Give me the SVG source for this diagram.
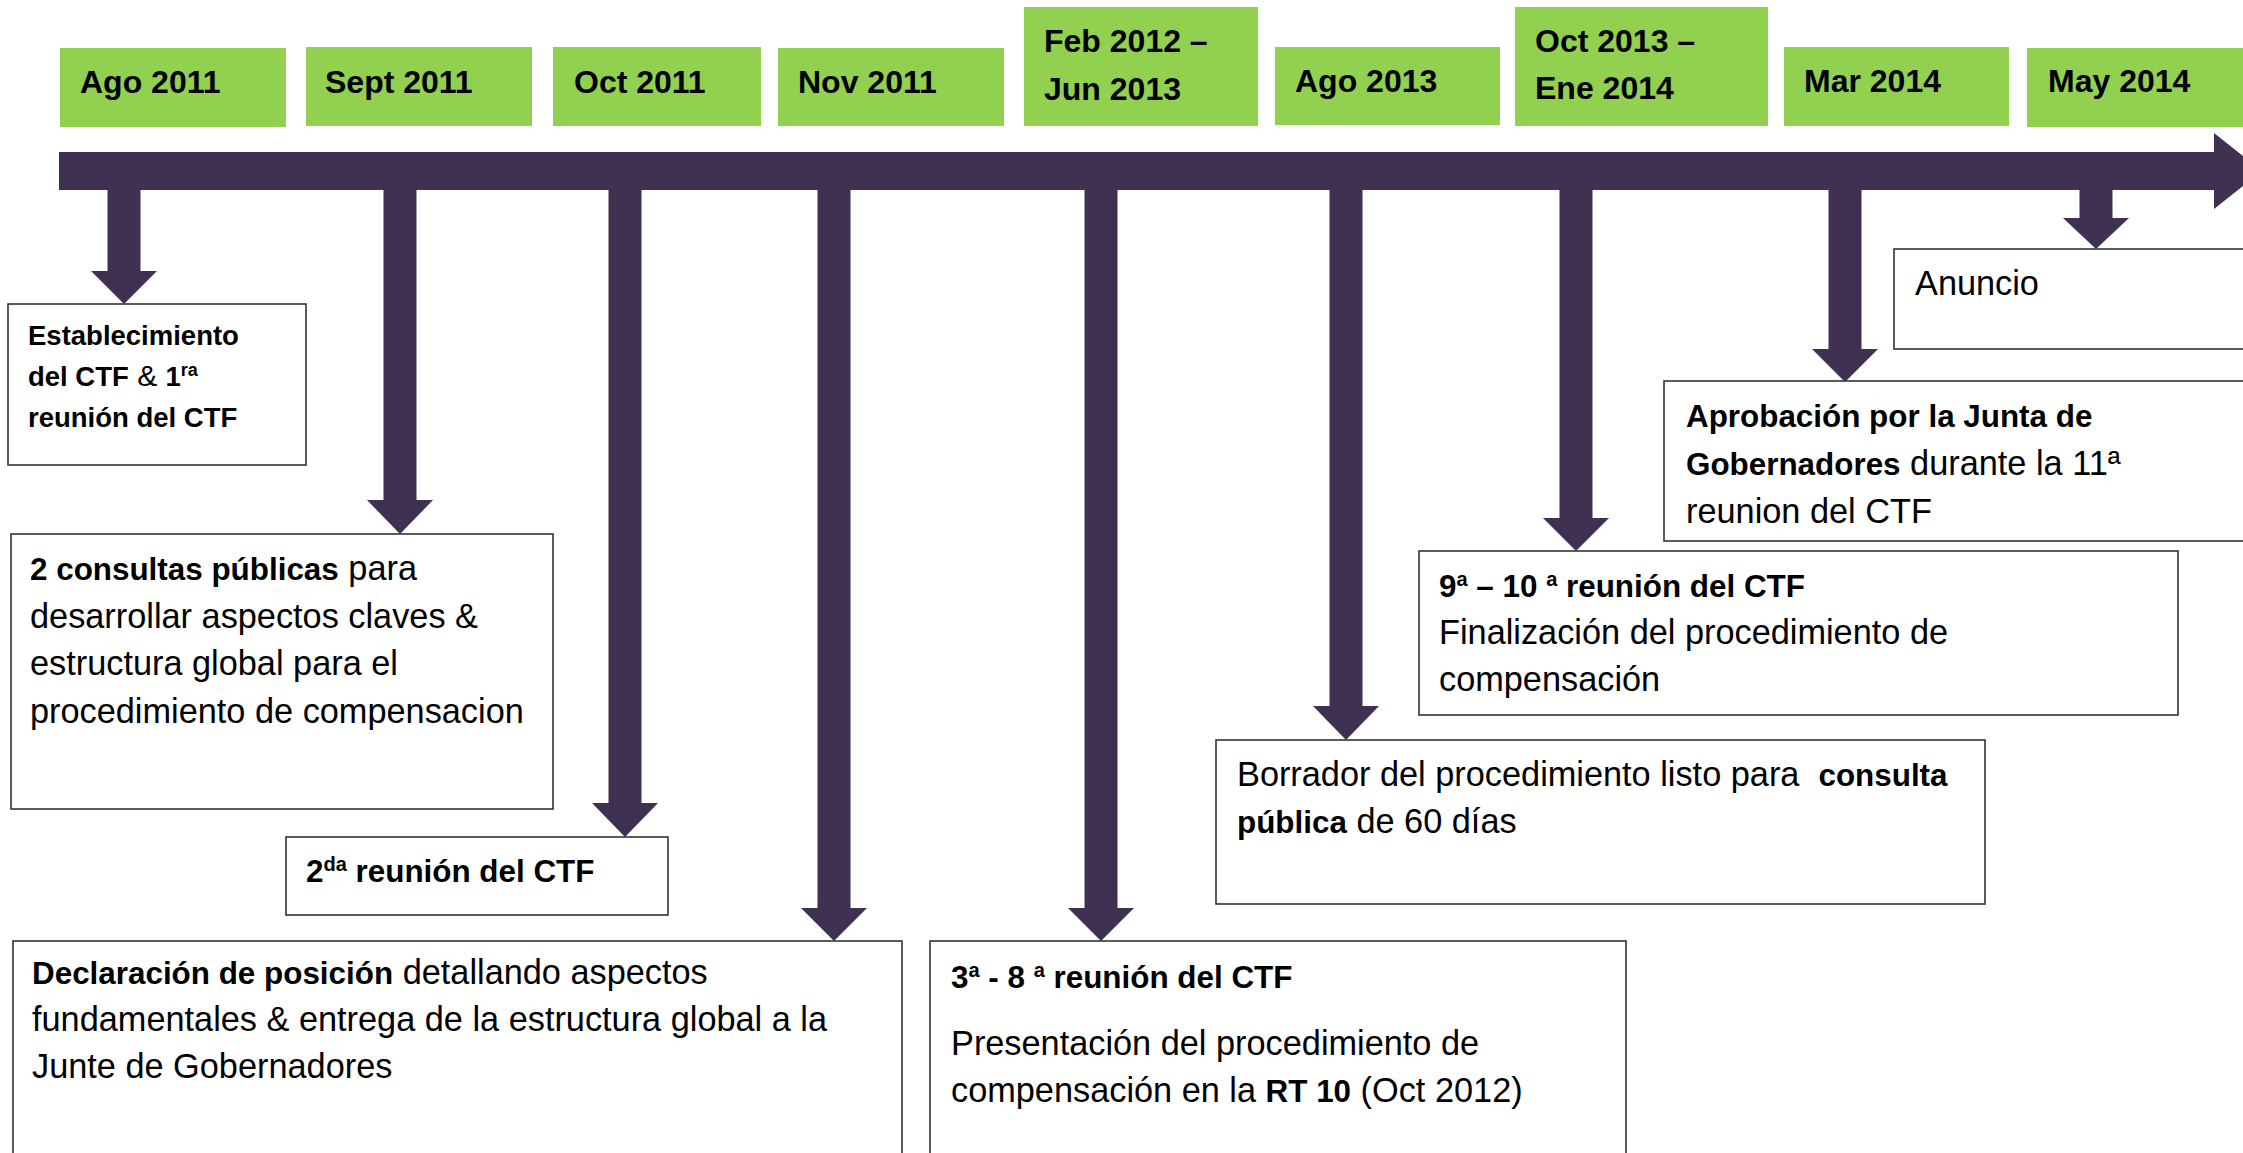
<svg xmlns="http://www.w3.org/2000/svg" width="2243" height="1153" viewBox="0 0 2243 1153">
<defs>
<style>
text{font-family:"Liberation Sans",Arial,sans-serif;fill:#000}
.date rect{fill:#92D050}
.date text{font-weight:bold;font-size:32px}
.box rect{fill:#fff;stroke:#333;stroke-width:1.6}
.r{font-size:34.3px}
.b{font-weight:bold;font-size:31.4px}
.sup{font-weight:bold;font-size:20px}
.a{font-weight:bold;font-size:27.5px}
.arrow{fill:#403152}
</style>
</defs>
<rect width="2243" height="1153" fill="#fff"/>

<g id="dates">
<g id="d-ago2011" class="date"><rect x="60" y="48" width="226" height="79"/><text x="80" y="93">Ago 2011</text></g>
<g id="d-sept2011" class="date"><rect x="306" y="47" width="226" height="79"/><text x="325" y="93">Sept 2011</text></g>
<g id="d-oct2011" class="date"><rect x="553" y="47" width="208" height="79"/><text x="574" y="93">Oct 2011</text></g>
<g id="d-nov2011" class="date"><rect x="778" y="48" width="226" height="78"/><text x="798" y="93">Nov 2011</text></g>
<g id="d-feb2012" class="date"><rect x="1024" y="7" width="234" height="119"/><text x="1044" y="52">Feb 2012 –</text><text x="1044" y="100">Jun 2013</text></g>
<g id="d-ago2013" class="date"><rect x="1275" y="47" width="225" height="78"/><text x="1295" y="92">Ago 2013</text></g>
<g id="d-oct2013" class="date"><rect x="1515" y="7" width="253" height="119"/><text x="1535" y="52">Oct 2013 –</text><text x="1535" y="99">Ene 2014</text></g>
<g id="d-mar2014" class="date"><rect x="1784" y="47" width="225" height="79"/><text x="1804" y="92">Mar 2014</text></g>
<g id="d-may2014" class="date"><rect x="2027" y="48" width="230" height="79"/><text x="2048" y="92">May 2014</text></g>
</g>

<g id="timeline">
<polygon class="arrow" points="59,152 2214,152 2214,133 2262,171 2214,209 2214,190 59,190"/>
</g>

<g id="connectors" class="arrow">
<path d="M107.5,188 V271 H91 L124,304 L157,271 H140.5 V188 Z"/>
<path d="M383.5,188 V500 H367 L400,534 L433,500 H416.5 V188 Z"/>
<path d="M608.5,188 V803 H592 L625,837 L658,803 H641.5 V188 Z"/>
<path d="M817.5,188 V908 H801 L834,941 L867,908 H850.5 V188 Z"/>
<path d="M1084.5,188 V908 H1068 L1101,941 L1134,908 H1117.5 V188 Z"/>
<path d="M1329.5,188 V706 H1313 L1346,740 L1379,706 H1362.5 V188 Z"/>
<path d="M1559.5,188 V518 H1543 L1576,551 L1609,518 H1592.5 V188 Z"/>
<path d="M1828.5,188 V349 H1812 L1845,382 L1878,349 H1861.5 V188 Z"/>
<path d="M2079.5,188 V218 H2063 L2096,249 L2129,218 H2112.5 V188 Z"/>
</g>

<g id="n-establecimiento" class="box">
<rect x="8" y="304" width="298" height="161"/>
<text class="a" x="28" y="345">Establecimiento</text>
<text class="a" x="28" y="386">del CTF<tspan font-weight="normal" font-size="30"> &amp; </tspan>1<tspan font-size="18" dy="-10">ra</tspan></text>
<text class="a" x="28" y="427">reunión del CTF</text>
</g>

<g id="n-consultas" class="box">
<rect x="11" y="534" width="542" height="275"/>
<text class="r" x="30" y="580"><tspan class="b">2 consultas públicas</tspan> para</text>
<text class="r" x="30" y="627.5">desarrollar aspectos claves &amp;</text>
<text class="r" x="30" y="675">estructura global para el</text>
<text class="r" x="30" y="722.5">procedimiento de compensacion</text>
</g>

<g id="n-2da" class="box">
<rect x="286" y="837" width="382" height="78"/>
<text class="b" x="306" y="882">2<tspan class="sup" dy="-11">da</tspan><tspan dy="11"> reunión del CTF</tspan></text>
</g>

<g id="n-declaracion" class="box">
<rect x="13" y="941" width="889" height="240"/>
<text class="r" x="32" y="984"><tspan class="b">Declaración de posición</tspan> detallando aspectos</text>
<text class="r" x="32" y="1031">fundamentales &amp; entrega de la estructura global a la</text>
<text class="r" x="32" y="1078">Junte de Gobernadores</text>
</g>

<g id="n-3a8a" class="box">
<rect x="930" y="941" width="696" height="240"/>
<text class="b" x="951" y="988">3<tspan class="sup" dy="-11">a</tspan><tspan dy="11"> - 8 </tspan><tspan class="sup" dy="-11">a</tspan><tspan dy="11"> reunión del CTF</tspan></text>
<text class="r" x="951" y="1055">Presentación del procedimiento de</text>
<text class="r" x="951" y="1102">compensación en la <tspan class="b">RT 10</tspan> (Oct 2012)</text>
</g>

<g id="n-borrador" class="box">
<rect x="1216" y="740" width="769" height="164"/>
<text class="r" x="1237" y="786" xml:space="preserve">Borrador del procedimiento listo para  <tspan class="b">consulta</tspan></text>
<text class="r" x="1237" y="833"><tspan class="b">pública</tspan> de 60 días</text>
</g>

<g id="n-9a10a" class="box">
<rect x="1419" y="551" width="759" height="164"/>
<text class="b" x="1439" y="597">9<tspan class="sup" dy="-11">a</tspan><tspan dy="11"> – 10 </tspan><tspan class="sup" dy="-11">a</tspan><tspan dy="11"> reunión del CTF</tspan></text>
<text class="r" x="1439" y="644">Finalización del procedimiento de</text>
<text class="r" x="1439" y="691">compensación</text>
</g>

<g id="n-aprobacion" class="box">
<rect x="1664" y="381" width="600" height="160"/>
<text class="b" x="1686" y="427">Aprobación por la Junta de</text>
<text class="r" x="1686" y="475"><tspan class="b">Gobernadores</tspan> durante la 11ª</text>
<text class="r" x="1686" y="523">reunion del CTF</text>
</g>

<g id="n-anuncio" class="box">
<rect x="1894" y="249" width="370" height="100"/>
<text class="r" x="1915" y="295">Anuncio</text>
</g>
</svg>
